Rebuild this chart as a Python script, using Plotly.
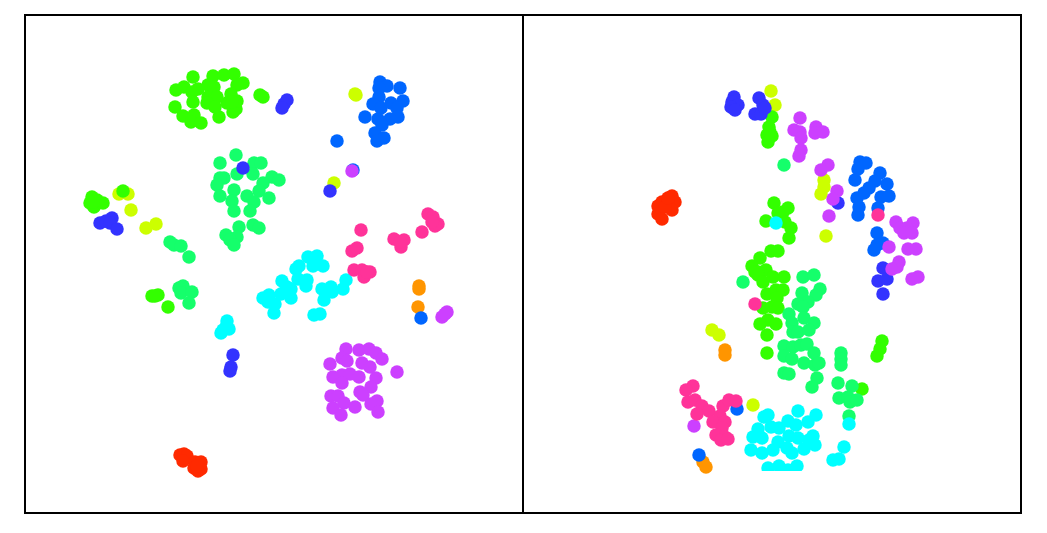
import plotly.graph_objects as go
from plotly.subplots import make_subplots

# (x, y) positions, one list per class
left_red = [(180,455),(184,454),(187,456),(183,461),(195,462),(201,462),(194,468),(201,469),(198,471),(197,466)]
left_orange = [(419,286),(419,289),(418,307)]
left_yellow = [(355,94),(356,95),(334,183),(119,194),(128,194),(131,210),(146,228),(156,224)]
left_lime = [(193,77),(213,76),(224,75),(234,74),(243,83),(237,85),(208,85),(214,87),(198,89),(184,87),(176,90),(192,92),(193,102),(175,107),(183,116),(194,115),(191,122),(201,123),(219,117),(233,112),(236,109),(237,101),(231,94),(227,103),(208,97),(217,97),(207,103),(215,107),(232,102),(260,95),(263,97),(92,197),(90,203),(94,207),(103,203),(97,200),(93,202),(123,191),(152,296),(158,295),(155,296),(168,307)]
left_green = [(236,155),(220,163),(254,163),(261,163),(237,174),(253,174),(224,178),(220,178),(217,185),(272,177),(279,180),(263,183),(259,191),(234,190),(220,196),(247,196),(269,198),(232,201),(254,202),(234,211),(250,211),(239,227),(253,225),(259,228),(226,235),(237,237),(230,240),(234,245),(170,242),(174,245),(181,246),(189,257),(183,286),(179,288),(181,293),(192,292),(189,303)]
left_cyan = [(227,321),(229,329),(223,330),(221,333),(226,327),(263,298),(269,295),(268,302),(275,304),(274,313),(282,281),(287,287),(291,289),(281,294),(291,298),(285,292),(296,269),(299,266),(298,279),(307,280),(306,286),(308,257),(317,256),(313,266),(323,266),(322,289),(331,287),(332,292),(324,300),(343,289),(346,280),(314,315),(320,314)]
left_blue = [(380,82),(387,86),(379,88),(400,88),(379,97),(373,104),(381,108),(391,103),(403,101),(397,108),(398,117),(390,119),(378,119),(382,125),(365,117),(375,133),(384,138),(377,141),(337,141),(353,170),(421,318)]
left_indigo = [(287,100),(284,104),(282,108),(243,168),(330,191),(100,223),(106,221),(112,218),(110,223),(117,229),(233,355),(231,367),(230,371)]
left_purple = [(442,317),(447,312),(445,314),(352,171),(346,349),(359,350),(369,349),(376,353),(382,359),(342,358),(347,361),(362,363),(370,367),(330,364),(397,372),(333,377),(342,375),(350,374),(359,377),(342,383),(376,378),(371,387),(360,392),(363,395),(331,396),(338,396),(344,403),(355,407),(333,408),(341,415),(377,401),(371,404),(378,412)]
left_pink = [(361,230),(352,251),(357,248),(354,270),(362,270),(364,277),(370,272),(367,272),(394,239),(404,240),(401,247),(400,242),(428,214),(433,217),(422,232),(438,224),(435,226),(432,222)]

right_red = [(672,196),(675,202),(662,202),(658,206),(668,203),(672,210),(658,214),(662,219),(665,207),(668,198)]
right_orange = [(725,350),(725,355),(703,462),(706,467)]
right_yellow = [(771,91),(775,105),(824,180),(824,187),(821,194),(826,236),(712,330),(719,335),(753,405)]
right_lime = [(772,117),(769,127),(767,135),(772,136),(768,142),(770,132),(774,203),(788,208),(783,212),(778,213),(766,221),(785,222),(791,228),(789,238),(771,251),(778,251),(760,258),(752,266),(766,270),(758,272),(755,272),(758,275),(763,282),(773,277),(784,277),(767,294),(776,290),(783,290),(777,298),(763,308),(772,307),(778,308),(768,320),(760,324),(776,324),(767,335),(767,353),(882,341),(880,349),(877,356),(862,389)]
right_green = [(784,165),(743,282),(803,277),(814,275),(802,293),(820,289),(816,295),(808,302),(798,304),(803,307),(789,314),(804,318),(814,323),(792,323),(793,332),(798,332),(809,330),(784,346),(793,347),(801,345),(807,344),(784,356),(792,359),(804,363),(814,353),(815,365),(819,363),(784,373),(789,374),(817,378),(812,387),(841,353),(841,359),(841,365),(838,383),(852,386),(839,398),(848,397),(850,402),(857,400),(849,416)]
right_cyan = [(776,223),(849,424),(768,415),(764,417),(798,411),(816,415),(771,427),(779,428),(788,421),(796,425),(808,422),(758,429),(753,437),(762,438),(789,436),(798,438),(813,436),(809,440),(815,445),(778,442),(773,450),(787,448),(792,453),(804,449),(751,450),(762,453),(844,447),(833,460),(839,459),(768,468),(779,466),(797,466),(788,470)]
right_blue = [(860,162),(866,163),(858,169),(855,180),(880,173),(875,181),(887,184),(869,188),(864,193),(857,198),(881,197),(889,196),(878,208),(859,207),(858,215),(877,233),(883,243),(877,245),(874,250),(737,409),(699,455)]
right_indigo = [(734,97),(732,102),(738,105),(731,107),(735,110),(759,98),(763,105),(755,114),(761,114),(765,108),(838,203),(883,268),(878,281),(887,279),(883,294)]
right_purple = [(800,118),(794,130),(800,132),(801,138),(816,127),(815,133),(823,132),(801,150),(799,156),(828,165),(821,170),(837,191),(833,199),(829,216),(896,222),(913,223),(900,228),(907,228),(904,233),(912,233),(889,247),(908,249),(916,249),(899,262),(897,267),(892,269),(912,279),(918,277),(694,426)]
right_pink = [(878,215),(755,304),(693,386),(686,390),(688,402),(695,400),(702,406),(709,411),(697,414),(723,406),(729,400),(736,401),(720,416),(713,422),(725,422),(722,428),(716,435),(725,437),(721,440),(728,439)]

colors = ["#ff2a00", "#ff9500", "#ccff00", "#33ff00", "#15ff6b", "#00ffff", "#0066ff", "#3333ff", "#cc40ff", "#ff3399"]
left_series = [left_red, left_orange, left_yellow, left_lime, left_green, left_cyan, left_blue, left_indigo, left_purple, left_pink]
right_series = [right_red, right_orange, right_yellow, right_lime, right_green, right_cyan, right_blue, right_indigo, right_purple, right_pink]

fig = make_subplots(rows=1, cols=2, horizontal_spacing=0)
for col, series in ((1, left_series), (2, right_series)):
    for pts, c in zip(series, colors):
        fig.add_trace(go.Scatter(x=[p[0] for p in pts], y=[p[1] for p in pts], mode="markers",
                                 marker=dict(size=13.5, color=c, line=dict(width=0)), showlegend=False),
                      row=1, col=col)

axis = dict(showgrid=False, zeroline=False, showticklabels=False, ticks="",
            showline=True, linecolor="black", linewidth=2)
fig.update_xaxes(mirror=True, **axis)
fig.update_yaxes(**axis)
fig.update_layout(
    width=1047, height=533, autosize=False, plot_bgcolor="white", paper_bgcolor="white",
    margin=dict(l=26, r=27, t=16, b=21),
    xaxis=dict(range=[26, 522], domain=[0, 496 / 994]),
    xaxis2=dict(range=[522, 1020], domain=[496 / 994, 1]),
    yaxis=dict(range=[512, 16], mirror=True),
    yaxis2=dict(range=[512, 16], side="right"),
    shapes=[dict(type="rect", xref="x2", yref="y2", x0=745, x1=805, y0=471, y1=482,
                 fillcolor="white", line=dict(width=0), layer="above")],
)
fig.write_html("out.html", config={"displayModeBar": False}, post_script="document.body.style.margin='0';")
